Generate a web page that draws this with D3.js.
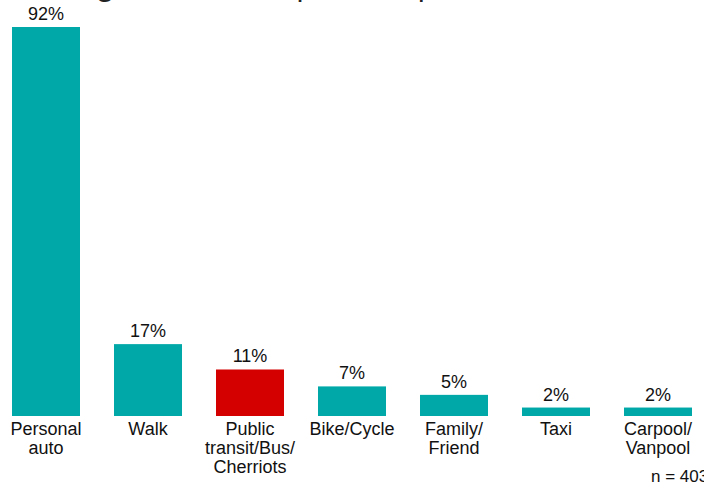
<!DOCTYPE html>
<html>
<head>
<meta charset="utf-8">
<script src="https://cdn.jsdelivr.net/npm/d3@7"></script>
<style>
  html, body { margin: 0; padding: 0; background: #fff; }
  svg { display: block; font-family: "Liberation Sans", Arial, Helvetica, sans-serif; }
</style>
</head>
<body>
<svg id="chart" width="704" height="486"></svg>
<script>
// Modes of transportation used (share of respondents, %)
const categories = [
  ["Personal", "auto"],
  ["Walk"],
  ["Public", "transit/Bus/", "Cherriots"],
  ["Bike/Cycle"],
  ["Family/", "Friend"],
  ["Taxi"],
  ["Carpool/", "Vanpool"]
];
const values = [92, 17, 11, 7, 5, 2, 2];
const highlighted = [false, false, true, false, false, false, false];
const sampleNote = "n = 403";

const svg = d3.select("#chart");
const baseline = 416;

const keys = categories.map(c => c.join(" "));
const data = keys.map((k, i) => ({ key: k, lines: categories[i], value: values[i], hi: highlighted[i] }));

const x = d3.scaleBand()
  .domain(keys)
  .range([-5, 709])
  .paddingInner(1 / 3)
  .paddingOuter(1 / 6);

const y = d3.scaleLinear()
  .domain([0, 92])
  .range([baseline, 27]);

// Title (runs off the top edge)
const title = svg.append("text")
  .attr("y", -4.5)
  .attr("fill", "#222")
  .style("font-size", "29.5px");
title.append("tspan").attr("x", 70).attr("font-weight", "bold").text("Figure 3:");
title.append("tspan").attr("x", 236).text("Sample Transportation Used");

// Bars
svg.append("g").selectAll("rect")
  .data(data)
  .join("rect")
  .attr("x", d => x(d.key))
  .attr("width", x.bandwidth())
  .attr("y", d => y(d.value))
  .attr("height", d => baseline - y(d.value))
  .attr("fill", d => d.hi ? "#D40000" : "#00A9A8");

// Value labels
svg.append("g").selectAll("text")
  .data(data)
  .join("text")
  .attr("x", d => x(d.key) + x.bandwidth() / 2)
  .attr("y", d => y(d.value) - 7)
  .attr("text-anchor", "middle")
  .attr("fill", "#111")
  .style("font-size", "18px")
  .text(d => d.value + "%");

// Category labels via a bottom axis without line or ticks
const axis = svg.append("g")
  .attr("transform", `translate(0,${baseline})`)
  .call(d3.axisBottom(x).tickSize(0).tickFormat(""));
axis.select(".domain").remove();
axis.selectAll(".tick").each(function (k, i) {
  const t = d3.select(this).append("text")
    .attr("text-anchor", "middle")
    .attr("fill", "#111")
    .style("font-size", "18px")
    .style("font-family", "'Liberation Sans', Arial, Helvetica, sans-serif");
  data[i].lines.forEach((line, j) => {
    t.append("tspan").attr("x", 0).attr("y", 19 + j * 19).text(line);
  });
});

// Sample size note
svg.append("text")
  .attr("x", 651)
  .attr("y", 482)
  .attr("fill", "#111")
  .style("font-size", "17px")
  .text(sampleNote);
</script>
</body>
</html>
